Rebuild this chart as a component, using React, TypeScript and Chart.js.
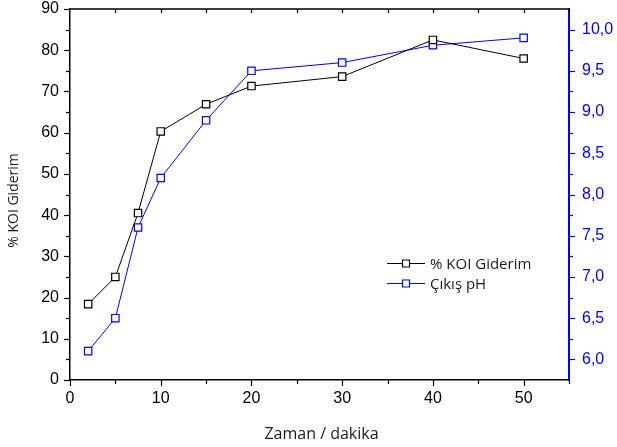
import { useEffect, useRef } from "react";
import { Chart, registerables } from "chart.js";

Chart.register(...registerables);

const timeMinutes = [2, 5, 7.5, 10, 15, 20, 30, 40, 50];
const koiRemoval = [18.4, 25.0, 40.5, 60.3, 66.9, 71.3, 73.6, 82.5, 78.0];
const outletPH = [6.1, 6.5, 7.6, 8.2, 8.9, 9.5, 9.6, 9.81, 9.9];

const xMajorTicks = [0, 10, 20, 30, 40, 50];
const xMinorTicks = [5, 15, 25, 35, 45, 55];
const yMajorTicks = [0, 10, 20, 30, 40, 50, 60, 70, 80, 90];
const yMinorTicks = [5, 15, 25, 35, 45, 55, 65, 75, 85];
const phMajorTicks = [6.0, 6.5, 7.0, 7.5, 8.0, 8.5, 9.0, 9.5, 10.0];
const phMinorTicks = [6.25, 6.75, 7.25, 7.75, 8.25, 8.75, 9.25, 9.75];

const seriesLabels = ["% KOI Giderim", "Çıkış pH"];
const xTitle = "Zaman / dakika";
const yTitle = "% KOI Giderim";

const BLACK = "#000000";
const BLUE = "#0000ff";
const TEXT = "#1a1a1a";

const decorPlugin = {
  id: "decor",
  afterDraw(chart: any) {
    const { ctx, chartArea: a, scales } = chart;
    ctx.save();
    // top frame line
    ctx.strokeStyle = BLACK;
    ctx.lineWidth = 1.5;
    ctx.beginPath();
    ctx.moveTo(a.left, a.top);
    ctx.lineTo(a.right, a.top);
    ctx.stroke();

    ctx.lineWidth = 1.2;
    const xs = scales.x;
    const drawX = (vals: number[], len: number, topLen: number) => {
      vals.forEach((v) => {
        const px = Math.round(xs.getPixelForValue(v)) + 0.5;
        ctx.beginPath();
        ctx.moveTo(px, a.bottom);
        ctx.lineTo(px, a.bottom + len);
        ctx.moveTo(px, a.top);
        ctx.lineTo(px, a.top + topLen);
        ctx.stroke();
      });
    };
    ctx.strokeStyle = BLACK;
    drawX(xMajorTicks.filter((v) => v > 0), 6, 4);
    drawX([0], 6, 0);
    drawX(xMinorTicks, 4, 4);

    const ys = scales.y;
    const drawY = (vals: number[], len: number) => {
      vals.forEach((v) => {
        const py = Math.round(ys.getPixelForValue(v)) + 0.5;
        ctx.beginPath();
        ctx.moveTo(a.left - len, py);
        ctx.lineTo(a.left, py);
        ctx.stroke();
      });
    };
    drawY(yMajorTicks, 6);
    drawY(yMinorTicks, 4);

    const ps = scales.y1;
    ctx.strokeStyle = BLUE;
    const drawP = (vals: number[], len: number) => {
      vals.forEach((v) => {
        const py = Math.round(ps.getPixelForValue(v)) + 0.5;
        ctx.beginPath();
        ctx.moveTo(a.right, py);
        ctx.lineTo(a.right + len, py);
        ctx.stroke();
      });
    };
    drawP(phMajorTicks, 6);
    drawP(phMinorTicks, 4);

    // axis titles
    ctx.fillStyle = TEXT;
    ctx.textAlign = "center";
    ctx.textBaseline = "middle";
    ctx.font = '16px "Open Sans"';
    ctx.fillText(xTitle, (a.left + a.right) / 2 + 2, a.bottom + 54);
    ctx.save();
    ctx.translate(14, (a.top + a.bottom) / 2 + 6);
    ctx.rotate(-Math.PI / 2);
    ctx.font = '14px "Open Sans"';
    ctx.fillText(yTitle, 0, 0);
    ctx.restore();

    // legend
    const lx = a.left + 317;
    const rows = [a.top + 254, a.top + 274];
    ctx.font = '15px "Open Sans"';
    ctx.textAlign = "left";
    chart.data.datasets.forEach((ds: any, i: number) => {
      const y = rows[i] + 0.5;
      ctx.strokeStyle = ds.borderColor;
      ctx.lineWidth = 1;
      ctx.beginPath();
      ctx.moveTo(lx, y);
      ctx.lineTo(lx + 38, y);
      ctx.stroke();
      ctx.fillStyle = "#ffffff";
      ctx.lineWidth = 1.2;
      ctx.beginPath();
      ctx.rect(lx + 19 - 3.5, y - 3.5, 7, 7);
      ctx.fill();
      ctx.stroke();
      ctx.fillStyle = TEXT;
      ctx.fillText(ds.label, lx + 43, y + 1);
    });
    ctx.restore();
  },
};

const zeroPad = (s: any) => {
  s.paddingTop = 0;
  s.paddingBottom = 0;
  s.paddingLeft = 0;
  s.paddingRight = 0;
};

export default function App() {
  const ref = useRef<HTMLCanvasElement | null>(null);

  useEffect(() => {
    if (!ref.current) return;
    const koiPoints = timeMinutes.map((t, i) => ({ x: t, y: koiRemoval[i] }));
    const phPoints = timeMinutes.map((t, i) => ({ x: t, y: outletPH[i] }));
    const tickFont = { family: "Arial, 'Liberation Sans', sans-serif", size: 16 };

    const chart = new Chart(ref.current, {
      type: "line",
      data: {
        datasets: [
          {
            label: seriesLabels[0],
            data: koiPoints,
            xAxisID: "x",
            yAxisID: "y",
            borderColor: BLACK,
            borderWidth: 1,
            pointStyle: "rect",
            pointRadius: 5.2,
            pointBorderWidth: 1.2,
            pointBackgroundColor: "#ffffff",
            pointBorderColor: BLACK,
            tension: 0,
          },
          {
            label: seriesLabels[1],
            data: phPoints,
            xAxisID: "x",
            yAxisID: "y1",
            borderColor: BLUE,
            borderWidth: 1,
            pointStyle: "rect",
            pointRadius: 5.2,
            pointBorderWidth: 1.2,
            pointBackgroundColor: "#ffffff",
            pointBorderColor: BLUE,
            tension: 0,
          },
        ],
      },
      options: {
        animation: false,
        responsive: true,
        maintainAspectRatio: false,
        layout: { padding: { top: 9, left: 0, right: 0, bottom: 0 } },
        plugins: { legend: { display: false }, tooltip: { enabled: false } },
        scales: {
          x: {
            type: "linear",
            position: "bottom",
            min: 0,
            max: 55,
            afterBuildTicks: (s: any) => {
              s.ticks = xMajorTicks.map((v) => ({ value: v }));
            },
            afterFit: (s: any) => {
              s.height = 67;
              zeroPad(s);
            },
            grid: { display: false, drawTicks: false },
            border: { display: true, color: BLACK, width: 1.5 },
            ticks: { color: BLACK, font: tickFont, padding: 9, maxRotation: 0 },
          },
          y: {
            type: "linear",
            position: "left",
            min: 0,
            max: 90,
            afterBuildTicks: (s: any) => {
              s.ticks = yMajorTicks.map((v) => ({ value: v }));
            },
            afterFit: (s: any) => {
              s.width = 70;
              zeroPad(s);
            },
            grid: { display: false, drawTicks: false },
            border: { display: true, color: BLACK, width: 1.5 },
            ticks: { color: BLACK, font: tickFont, padding: 11 },
          },
          y1: {
            type: "linear",
            position: "right",
            min: 5.75,
            max: 10.25,
            afterBuildTicks: (s: any) => {
              s.ticks = phMajorTicks.map((v) => ({ value: v }));
            },
            afterFit: (s: any) => {
              s.width = 48;
              zeroPad(s);
            },
            grid: { display: false, drawTicks: false },
            border: { display: true, color: BLUE, width: 2 },
            ticks: {
              color: BLUE,
              font: tickFont,
              padding: 13,
              callback: (v: any) => Number(v).toFixed(1).replace(".", ","),
            },
          },
        },
      },
      plugins: [decorPlugin],
    } as any);

    return () => chart.destroy();
  }, []);

  return (
    <div style={{ position: "fixed", left: 0, top: 0, width: 617, height: 447, background: "#ffffff" }}>
      <canvas ref={ref} />
    </div>
  );
}
